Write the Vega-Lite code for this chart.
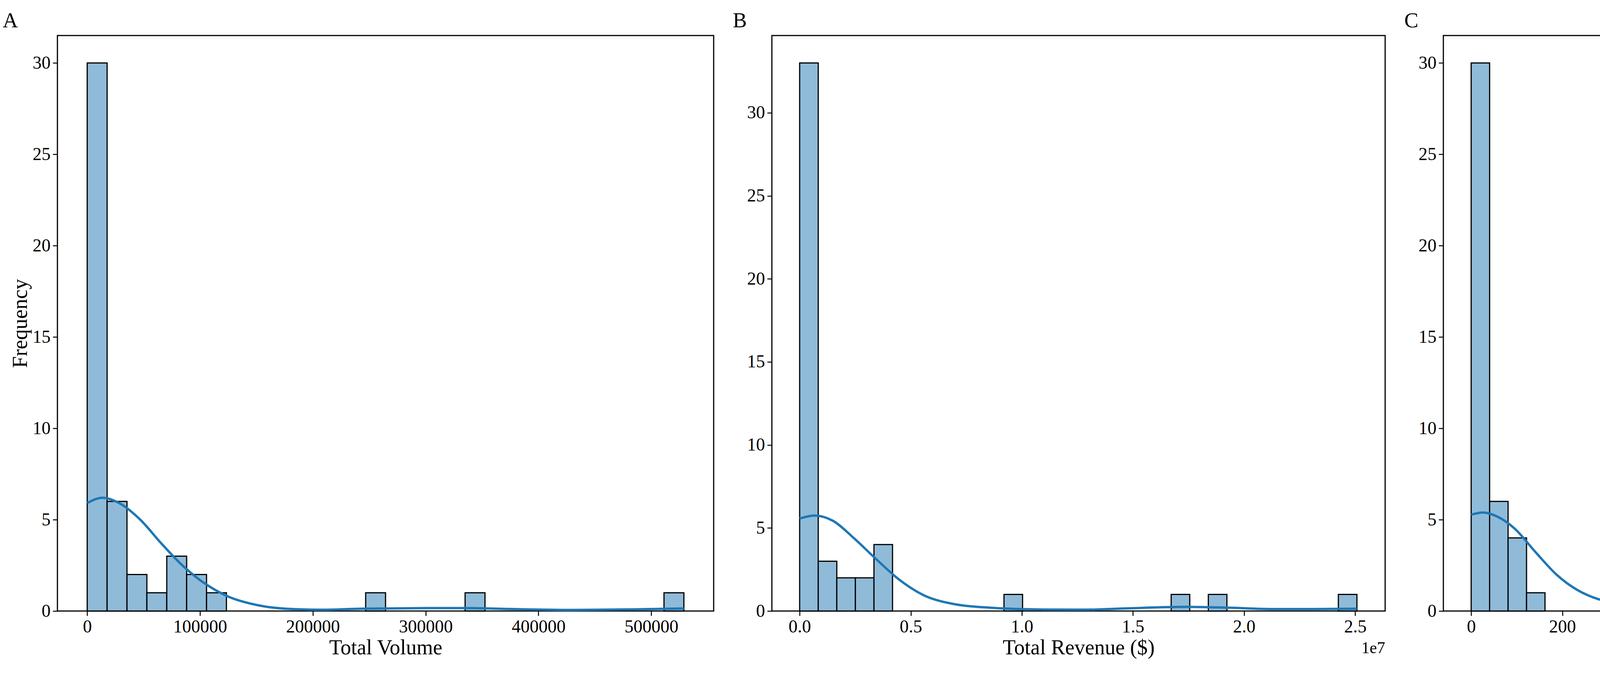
{
  "$schema": "https://vega.github.io/schema/vega-lite/v6.json",
  "background": "white",
  "padding": {"left": 5, "top": 25, "right": 5, "bottom": 5},
  "config": {
    "font": "Liberation Serif",
    "view": {"stroke": "black", "strokeWidth": 3},
    "axis": {"grid": false, "domain": false, "labelFont": "Liberation Serif", "labelFontSize": 46, "labelColor": "black", "titleFont": "Liberation Serif", "titleFontSize": 54, "titleFontWeight": "normal", "titleColor": "black", "tickColor": "black", "tickSize": 12, "tickWidth": 2.5, "labelPadding": 6},
    "title": {"font": "Liberation Serif", "fontSize": 54, "fontWeight": "normal", "anchor": "start", "frame": "group", "offset": 10}
  },
  "datasets": {
    "volBins": [
      {"start": 0, "end": 17630, "count": 30},
      {"start": 17630, "end": 35260, "count": 6},
      {"start": 35260, "end": 52890, "count": 2},
      {"start": 52890, "end": 70520, "count": 1},
      {"start": 70520, "end": 88150, "count": 3},
      {"start": 88150, "end": 105780, "count": 2},
      {"start": 105780, "end": 123410, "count": 1},
      {"start": 246820, "end": 264450, "count": 1},
      {"start": 334970, "end": 352600, "count": 1},
      {"start": 511270, "end": 528900, "count": 1}
    ],
    "volKde": [
      {"x": 0, "y": 5.91}, {"x": 13700, "y": 6.2}, {"x": 28600, "y": 5.9}, {"x": 47000, "y": 5.0},
      {"x": 65700, "y": 3.7}, {"x": 84300, "y": 2.5}, {"x": 102800, "y": 1.57}, {"x": 125000, "y": 0.79},
      {"x": 151000, "y": 0.32}, {"x": 180800, "y": 0.11}, {"x": 210000, "y": 0.07}, {"x": 244000, "y": 0.13},
      {"x": 300000, "y": 0.16}, {"x": 337000, "y": 0.16}, {"x": 374000, "y": 0.11}, {"x": 430000, "y": 0.06},
      {"x": 485000, "y": 0.09}, {"x": 529000, "y": 0.14}
    ],
    "revBins": [
      {"start": 0, "end": 0.0836, "count": 33},
      {"start": 0.0836, "end": 0.1672, "count": 3},
      {"start": 0.1672, "end": 0.2508, "count": 2},
      {"start": 0.2508, "end": 0.3344, "count": 2},
      {"start": 0.3344, "end": 0.418, "count": 4},
      {"start": 0.9196, "end": 1.0032, "count": 1},
      {"start": 1.672, "end": 1.7556, "count": 1},
      {"start": 1.8392, "end": 1.9228, "count": 1},
      {"start": 2.4244, "end": 2.508, "count": 1}
    ],
    "revKde": [
      {"x": 0, "y": 5.57}, {"x": 0.067, "y": 5.75}, {"x": 0.15, "y": 5.43}, {"x": 0.243, "y": 4.4},
      {"x": 0.336, "y": 3.23}, {"x": 0.448, "y": 1.89}, {"x": 0.56, "y": 0.94}, {"x": 0.69, "y": 0.43},
      {"x": 0.857, "y": 0.2}, {"x": 1.1, "y": 0.09}, {"x": 1.284, "y": 0.08}, {"x": 1.47, "y": 0.16},
      {"x": 1.749, "y": 0.25}, {"x": 1.935, "y": 0.2}, {"x": 2.12, "y": 0.12}, {"x": 2.31, "y": 0.12},
      {"x": 2.508, "y": 0.14}
    ],
    "guestBins": [
      {"start": 0, "end": 40.5, "count": 30},
      {"start": 40.5, "end": 81, "count": 6},
      {"start": 81, "end": 121.5, "count": 4},
      {"start": 121.5, "end": 162, "count": 1},
      {"start": 324, "end": 364.5, "count": 1},
      {"start": 405, "end": 445.5, "count": 1},
      {"start": 607.5, "end": 648, "count": 1},
      {"start": 648, "end": 688.5, "count": 1},
      {"start": 729, "end": 769.5, "count": 1},
      {"start": 769.5, "end": 810, "count": 1},
      {"start": 1174.5, "end": 1215, "count": 1}
    ],
    "guestKde": [
      {"x": 0, "y": 5.27}, {"x": 25.8, "y": 5.39}, {"x": 58, "y": 5.16}, {"x": 95, "y": 4.52},
      {"x": 141, "y": 3.23}, {"x": 187, "y": 2.0}, {"x": 233, "y": 1.15}, {"x": 279, "y": 0.65},
      {"x": 344, "y": 0.39}, {"x": 417, "y": 0.32}, {"x": 509, "y": 0.34}, {"x": 601, "y": 0.43},
      {"x": 694, "y": 0.49}, {"x": 758, "y": 0.44}, {"x": 832, "y": 0.29}, {"x": 924, "y": 0.11},
      {"x": 1026, "y": 0.06}, {"x": 1136, "y": 0.09}, {"x": 1215, "y": 0.13}
    ],
    "offsetLabel": [{"x": 2.635, "y": 0, "label": "1e7"}]
  },
  "hconcat": [
    {
      "width": 1680, "height": 1474,
      "title": {"text": "A", "dx": -140},
      "layer": [
        {
          "data": {"name": "volBins"},
          "mark": {"type": "rect", "fill": "#8fbbd9", "stroke": "black", "strokeWidth": 3},
          "encoding": {
            "x": {"field": "start", "type": "quantitative", "scale": {"domain": [-26400, 555300], "nice": false, "zero": false}, "axis": {"values": [0, 100000, 200000, 300000, 400000, 500000], "format": "d", "title": "Total Volume"}},
            "x2": {"field": "end"},
            "y": {"field": "count", "type": "quantitative", "scale": {"domain": [0, 31.5], "nice": false}, "axis": {"values": [0, 5, 10, 15, 20, 25, 30], "title": "Frequency", "titlePadding": 4}},
            "y2": {"datum": 0}
          }
        },
        {
          "data": {"name": "volKde"},
          "mark": {"type": "line", "color": "#1f77b4", "strokeWidth": 6, "interpolate": "monotone"},
          "encoding": {"x": {"field": "x", "type": "quantitative"}, "y": {"field": "y", "type": "quantitative"}}
        }
      ]
    },
    {
      "width": 1570, "height": 1474,
      "title": {"text": "B", "dx": -100},
      "layer": [
        {
          "data": {"name": "revBins"},
          "mark": {"type": "rect", "fill": "#8fbbd9", "stroke": "black", "strokeWidth": 3},
          "encoding": {
            "x": {"field": "start", "type": "quantitative", "scale": {"domain": [-0.125, 2.635], "nice": false, "zero": false}, "axis": {"values": [0, 0.5, 1, 1.5, 2, 2.5], "format": ".1f", "title": "Total Revenue ($)"}},
            "x2": {"field": "end"},
            "y": {"field": "count", "type": "quantitative", "scale": {"domain": [0, 34.65], "nice": false}, "axis": {"values": [0, 5, 10, 15, 20, 25, 30], "title": null}},
            "y2": {"datum": 0}
          }
        },
        {
          "data": {"name": "revKde"},
          "mark": {"type": "line", "color": "#1f77b4", "strokeWidth": 6, "interpolate": "monotone"},
          "encoding": {"x": {"field": "x", "type": "quantitative"}, "y": {"field": "y", "type": "quantitative"}}
        },
        {
          "data": {"name": "offsetLabel"},
          "mark": {"type": "text", "align": "right", "baseline": "top", "dy": 75, "fontSize": 42, "font": "Liberation Serif", "color": "black"},
          "encoding": {"x": {"field": "x", "type": "quantitative"}, "y": {"field": "y", "type": "quantitative"}, "text": {"field": "label"}}
        }
      ]
    },
    {
      "width": 1560, "height": 1474,
      "title": {"text": "C", "dx": -100},
      "layer": [
        {
          "data": {"name": "guestBins"},
          "mark": {"type": "rect", "fill": "#8fbbd9", "stroke": "black", "strokeWidth": 3},
          "encoding": {
            "x": {"field": "start", "type": "quantitative", "scale": {"domain": [-61, 1276], "nice": false, "zero": false}, "axis": {"values": [0, 200, 400, 600, 800, 1000, 1200], "format": "d", "title": "Guest Intensity (km²)"}},
            "x2": {"field": "end"},
            "y": {"field": "count", "type": "quantitative", "scale": {"domain": [0, 31.5], "nice": false}, "axis": {"values": [0, 5, 10, 15, 20, 25, 30], "title": null}},
            "y2": {"datum": 0}
          }
        },
        {
          "data": {"name": "guestKde"},
          "mark": {"type": "line", "color": "#1f77b4", "strokeWidth": 6, "interpolate": "monotone"},
          "encoding": {"x": {"field": "x", "type": "quantitative"}, "y": {"field": "y", "type": "quantitative"}}
        }
      ]
    }
  ],
  "spacing": 45
}
